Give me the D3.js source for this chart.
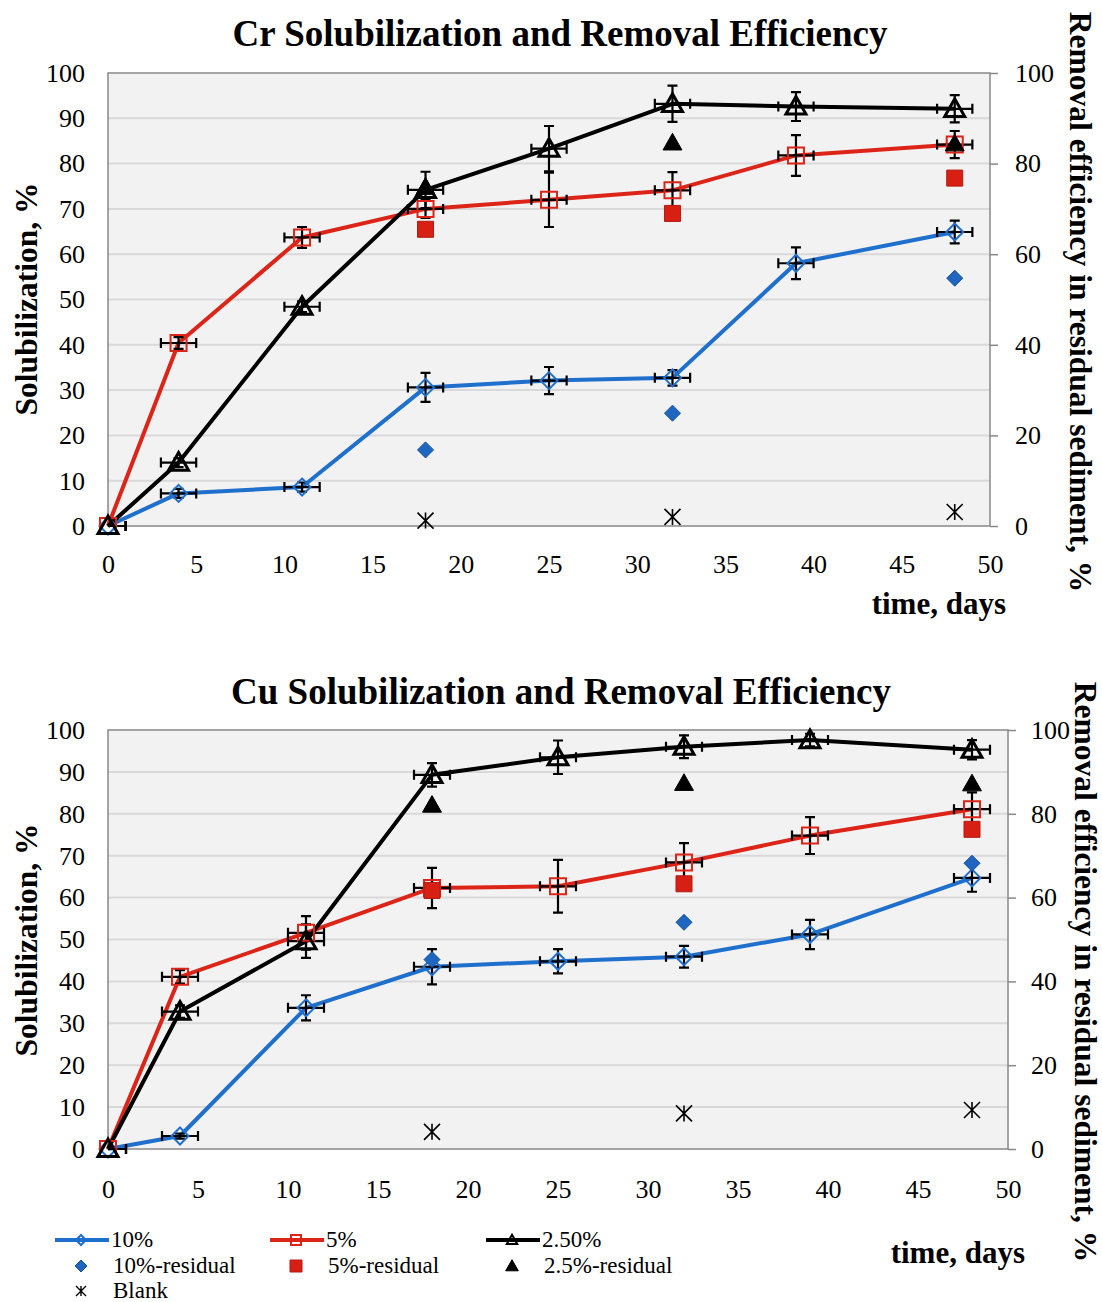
<!DOCTYPE html>
<html><head><meta charset="utf-8">
<script src="https://cdn.jsdelivr.net/npm/d3@7"></script>
<style>
body{margin:0;background:#fff}
svg{display:block}
svg text{font-family:"Liberation Serif","Times New Roman",serif !important;fill:#000}
</style>
</head><body>
<svg id="chart" width="1102" height="1302"></svg>
<script>
// Sampling days for the leaching series and the residual / blank measurements
const days = [0, 4, 11, 18, 25, 32, 39, 48];
const residualDays = [18, 32, 48];
const xTicks = [0, 5, 10, 15, 20, 25, 30, 35, 40, 45, 50];
const leftTicks = [0, 10, 20, 30, 40, 50, 60, 70, 80, 90, 100];
const rightTicks = [0, 20, 40, 60, 80, 100];
const dayError = 1;

// Cr: solubilization (%) with standard deviations
const crSol10 = [0, 7.2, 8.6, 30.6, 32.1, 32.7, 58.0, 64.9];
const crErr10 = [0, 1, 1, 3.2, 3, 1.7, 3.5, 2.5];
const crSol5 = [0, 40.4, 63.7, 70.0, 72.0, 74.1, 81.8, 84.2];
const crErr5 = [0, 1.3, 2.3, 2, 6, 4, 4.5, 3];
const crSol25 = [0, 14.0, 48.4, 74.2, 83.3, 93.2, 92.6, 92.1];
const crErr25 = [0, 1, 1.2, 4, 5, 4, 3.2, 3];
// Cr: removal efficiency in residual sediment (%)
const crRes10 = [16.8, 24.9, 54.7];
const crRes5 = [65.5, 69.0, 76.8];
const crRes25 = [74.8, 84.6, 84.4];
const crBlank = [1.2, 2.0, 3.1];

// Cu: solubilization (%) with standard deviations
const cuSol10 = [0, 3.1, 33.7, 43.5, 44.8, 45.9, 51.2, 64.7];
const cuErr10 = [0, 0.6, 3, 4.2, 2.9, 2.6, 3.5, 3.3];
const cuSol5 = [0, 41.1, 51.6, 62.3, 62.7, 68.4, 74.8, 81.1];
const cuErr5 = [0, 1.6, 4, 4.8, 6.3, 4.6, 4.4, 4];
const cuSol25 = [0, 32.8, 49.6, 89.3, 93.5, 96.0, 97.6, 95.3];
const cuErr25 = [0, 1.5, 4, 2.8, 4, 2.7, 1.5, 2.3];
// Cu: removal efficiency in residual sediment (%)
const cuRes10 = [45.2, 54.1, 68.2];
const cuRes5 = [61.7, 63.3, 76.3];
const cuRes25 = [82.1, 87.3, 87.2];
const cuBlank = [4.1, 8.5, 9.3];

const legendLabels = ["10%", "5%", "2.50%", "10%-residual", "5%-residual", "2.5%-residual", "Blank"];

const BLUE = "#1f6fcc", RED = "#dc2418", BLACK = "#000";
const BLUE_FILL = "#1f66c0", BLUE_EDGE = "#184f95";
const RED_FILL = "#d81f14", RED_EDGE = "#b51a10";
const SERIF = '"Liberation Serif","Times New Roman",serif';

const svg = d3.select("#chart");

function markerPath(type, s) {
  switch (type) {
    case "diamond": return `M0,${-s}L${s},0L0,${s}L${-s},0Z`;
    case "square": return `M${-s},${-s}H${s}V${s}H${-s}Z`;
    case "triangle": return `M0,${-s * 1.05}L${s * 1.05},${s * 0.8}L${-s * 1.05},${s * 0.8}Z`;
    case "star": return `M${-s},${-s}L${s},${s}M${s},${-s}L${-s},${s}M0,${-s}L0,${s}`;
  }
}

function drawPanel(p, id) {
  const x = d3.scaleLinear().domain([0, 50]).range([p.left, p.right]);
  const y = d3.scaleLinear().domain([0, 100]).range([p.bottom, p.top]);
  const y2 = d3.scaleLinear().domain([0, 100]).range([p.bottom, p.top]);
  const g = svg.append("g");

  g.append("clipPath").attr("id", "clip" + id).append("rect")
    .attr("x", p.left).attr("y", p.top - 40)
    .attr("width", p.right - p.left).attr("height", p.bottom - p.top + 80);

  g.append("rect").attr("x", p.left).attr("y", p.top)
    .attr("width", p.right - p.left).attr("height", p.bottom - p.top)
    .attr("fill", "#f2f2f2");

  g.append("g").selectAll("line").data(leftTicks.filter(t => t > 0 && t < 100)).join("line")
    .attr("x1", p.left).attr("x2", p.right)
    .attr("y1", d => y(d)).attr("y2", d => y(d))
    .attr("stroke", "#d9d9d9").attr("stroke-width", 2);

  g.append("rect").attr("x", p.left).attr("y", p.top)
    .attr("width", p.right - p.left).attr("height", p.bottom - p.top)
    .attr("fill", "none").attr("stroke", "#888").attr("stroke-width", 1.5);

  // axes
  const ax = g.append("g").attr("transform", `translate(${p.left},0)`)
    .call(d3.axisLeft(y).tickValues(leftTicks).tickSize(0).tickPadding(23));
  const bx = g.append("g").attr("transform", `translate(0,${p.bottom})`)
    .call(d3.axisBottom(x).tickValues(xTicks).tickSize(0).tickPadding(p.xPad));
  const rx = g.append("g").attr("transform", `translate(${p.right},0)`)
    .call(d3.axisRight(y2).tickValues(rightTicks).tickSize(8).tickPadding(p.rPad));
  [ax, bx, rx].forEach(a => {
    a.attr("font-family", null);
    a.select(".domain").remove();
    a.selectAll("text").attr("font-size", 26).style("font-family", SERIF);
    a.selectAll("line").attr("stroke", "#888").attr("stroke-width", 1.5);
  });

  // titles
  g.append("text").attr("x", p.titleX).attr("y", p.titleY).attr("text-anchor", "middle")
    .attr("font-size", 37).attr("font-weight", "bold").text(p.title);
  g.append("text").attr("transform", `translate(37,${p.yTitleC}) rotate(-90)`)
    .attr("text-anchor", "middle").attr("font-size", 31.5).attr("font-weight", "bold")
    .text("Solubilization, %");
  g.append("text").attr("transform", `translate(${p.rTitleX},${p.rTitleC}) rotate(90)`)
    .attr("text-anchor", "middle").attr("font-size", 31.5).attr("font-weight", "bold")
    .text("Removal efficiency in residual sediment, %");
  g.append("text").attr("x", p.timeX).attr("y", p.timeY).attr("text-anchor", "end")
    .attr("font-size", 31).attr("font-weight", "bold").text("time, days");

  const line = d3.line().x(d => x(d[0])).y(d => y(d[1]));
  const series = [
    { v: p.s10, e: p.e10, color: BLUE, shape: "diamond", size: 8.5, sw: 2 },
    { v: p.s5, e: p.e5, color: RED, shape: "square", size: 8, sw: 2 },
    { v: p.s25, e: p.e25, color: BLACK, shape: "triangle", size: 9.5, sw: 3 }
  ];

  series.forEach(s => {
    g.append("path").datum(days.map((d, i) => [d, s.v[i]]))
      .attr("d", line).attr("fill", "none").attr("stroke", s.color)
      .attr("stroke-width", 4).attr("stroke-linejoin", "round");
  });

  // error bars (time and value)
  const eg = g.append("g").attr("clip-path", `url(#clip${id})`)
    .attr("stroke", "#000").attr("stroke-width", 2.2).attr("fill", "none");
  const cap = 5;
  series.forEach(s => {
    days.forEach((d, i) => {
      const cx = x(d), cy = y(s.v[i]);
      const xl = x(d - dayError), xr = x(d + dayError);
      eg.append("path").attr("d",
        `M${xl},${cy}H${xr}M${xl},${cy - cap}V${cy + cap}M${xr},${cy - cap}V${cy + cap}`);
      if (s.e[i] > 0) {
        const yt = y(s.v[i] + s.e[i]), yb = y(s.v[i] - s.e[i]);
        eg.append("path").attr("d",
          `M${cx},${yt}V${yb}M${cx - cap},${yt}H${cx + cap}M${cx - cap},${yb}H${cx + cap}`);
      }
    });
  });

  series.forEach(s => {
    g.append("g").selectAll("path").data(days.map((d, i) => [d, s.v[i]])).join("path")
      .attr("transform", d => `translate(${x(d[0])},${y(d[1])})`)
      .attr("d", markerPath(s.shape, s.size))
      .attr("fill", "none").attr("stroke", s.color).attr("stroke-width", s.sw)
      .attr("stroke-linejoin", "miter");
  });

  // residual removal efficiency (right axis)
  const resid = [
    { v: p.r10, shape: "diamond", size: 8, fill: BLUE_FILL, edge: BLUE_EDGE },
    { v: p.r5, shape: "square", size: 8, fill: RED_FILL, edge: RED_EDGE },
    { v: p.r25, shape: "triangle", size: 9, fill: "#000", edge: "#000" }
  ];
  resid.forEach(s => {
    g.append("g").selectAll("path").data(residualDays.map((d, i) => [d, s.v[i]])).join("path")
      .attr("transform", d => `translate(${x(d[0])},${y2(d[1])})`)
      .attr("d", markerPath(s.shape, s.size))
      .attr("fill", s.fill).attr("stroke", s.edge).attr("stroke-width", 1);
  });
  g.append("g").selectAll("path").data(residualDays.map((d, i) => [d, p.blank[i]])).join("path")
    .attr("transform", d => `translate(${x(d[0])},${y2(d[1])})`)
    .attr("d", markerPath("star", 8))
    .attr("fill", "none").attr("stroke", "#000").attr("stroke-width", 1.6);
}

drawPanel({
  left: 108, right: 990, top: 73, bottom: 526, xPad: 28.5, rPad: 17,
  title: "Cr Solubilization and Removal Efficiency", titleX: 560, titleY: 46,
  yTitleC: 299, rTitleX: 1070, rTitleC: 302, timeX: 1006, timeY: 614,
  s10: crSol10, e10: crErr10, s5: crSol5, e5: crErr5, s25: crSol25, e25: crErr25,
  r10: crRes10, r5: crRes5, r25: crRes25, blank: crBlank
}, 1);

drawPanel({
  left: 108, right: 1008, top: 730, bottom: 1149, xPad: 30.5, rPad: 15,
  title: "Cu Solubilization and Removal Efficiency", titleX: 561, titleY: 704,
  yTitleC: 940, rTitleX: 1075, rTitleC: 972, timeX: 1025, timeY: 1263,
  s10: cuSol10, e10: cuErr10, s5: cuSol5, e5: cuErr5, s25: cuSol25, e25: cuErr25,
  r10: cuRes10, r5: cuRes5, r25: cuRes25, blank: cuBlank
}, 2);

// legend
const lg = svg.append("g");
const legendItems = [
  { x: 55, y: 1240, kind: "line", color: BLUE, shape: "diamond", fill: "none", edge: BLUE, label: legendLabels[0] },
  { x: 270, y: 1240, kind: "line", color: RED, shape: "square", fill: "none", edge: RED, label: legendLabels[1] },
  { x: 486, y: 1240, kind: "line", color: BLACK, shape: "triangle", fill: "none", edge: BLACK, label: legendLabels[2] },
  { x: 55, y: 1266, kind: "pt", shape: "diamond", fill: BLUE_FILL, edge: BLUE_EDGE, label: legendLabels[3] },
  { x: 270, y: 1266, kind: "pt", shape: "square", fill: RED_FILL, edge: RED_EDGE, label: legendLabels[4] },
  { x: 486, y: 1266, kind: "pt", shape: "triangle", fill: "#000", edge: "#000", label: legendLabels[5] },
  { x: 55, y: 1291, kind: "pt", shape: "star", fill: "none", edge: "#000", label: legendLabels[6] }
];
legendItems.forEach(it => {
  const cx = it.x + 26;
  if (it.kind === "line") {
    lg.append("line").attr("x1", it.x).attr("x2", it.x + 54).attr("y1", it.y).attr("y2", it.y)
      .attr("stroke", it.color).attr("stroke-width", 4);
    lg.append("path").attr("transform", `translate(${cx},${it.y})`)
      .attr("d", markerPath(it.shape, 5)).attr("fill", "none").attr("stroke", it.edge).attr("stroke-width", 2);
  } else {
    lg.append("path").attr("transform", `translate(${cx},${it.y})`)
      .attr("d", markerPath(it.shape, it.shape === "star" ? 5 : 6))
      .attr("fill", it.fill).attr("stroke", it.edge).attr("stroke-width", it.shape === "star" ? 1.4 : 1);
  }
  lg.append("text").attr("x", it.kind === "line" ? it.x + 56 : it.x + 58).attr("y", it.y + 7)
    .attr("font-size", 23).text(it.label);
});
</script>
</body></html>
